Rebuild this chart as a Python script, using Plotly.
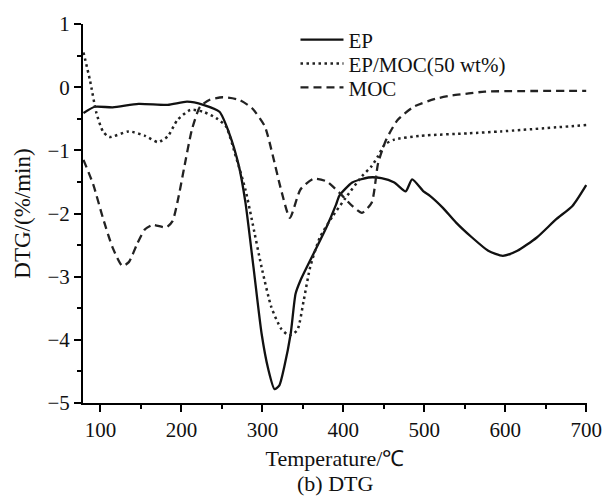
import plotly.graph_objects as go

# Temperature (°C) and DTG (%/min) values
ep_T = [79, 93, 115, 147, 183, 207, 227, 247, 259, 271, 279, 289, 299, 307, 315, 321, 327, 335, 341, 347,
        363, 379, 391, 395, 411, 431, 447, 463, 477, 485, 499, 507, 523, 539, 559, 579, 597, 615, 639, 663,
        683, 700]
ep_v = [-0.41, -0.31, -0.32, -0.265, -0.28, -0.23, -0.28, -0.39, -0.73, -1.25, -1.82, -2.85, -3.90, -4.45,
        -4.78, -4.72, -4.43, -3.90, -3.27, -3.06, -2.64, -2.22, -1.86, -1.72, -1.51, -1.43, -1.44, -1.51,
        -1.65, -1.46, -1.65, -1.72, -1.91, -2.14, -2.38, -2.59, -2.67, -2.59, -2.38, -2.09, -1.88, -1.55]

mix_T = [79, 87, 95, 103, 111, 135, 155, 171, 183, 195, 211, 227, 243, 255, 267, 279, 287, 299, 311, 323,
         333, 343, 351, 359, 371, 387, 403, 423, 435, 443, 451, 463, 495, 555, 595, 700]
mix_v = [0.55, 0.11, -0.41, -0.70, -0.79, -0.70, -0.77, -0.87, -0.78, -0.52, -0.36, -0.39, -0.49, -0.62,
         -1.09, -1.62, -2.10, -2.85, -3.48, -3.82, -3.93, -3.85, -3.38, -2.85, -2.38, -2.04, -1.75, -1.41,
         -1.25, -1.09, -0.91, -0.83, -0.77, -0.73, -0.70, -0.60]

moc_T = [79, 91, 103, 115, 127, 135, 145, 155, 165, 181, 189, 197, 203, 213, 223, 235, 251, 271, 287, 303,
         313, 323, 334, 347, 363, 379, 395, 411, 423, 435, 443, 453, 467, 487, 515, 535, 555, 575, 700]
moc_v = [-1.15, -1.54, -2.07, -2.54, -2.83, -2.77, -2.49, -2.25, -2.18, -2.22, -2.12, -1.70, -1.30, -0.67,
         -0.31, -0.20, -0.16, -0.20, -0.33, -0.62, -1.09, -1.62, -2.07, -1.62, -1.45, -1.49, -1.67, -1.88,
         -1.99, -1.83, -1.20, -0.83, -0.52, -0.31, -0.18, -0.13, -0.10, -0.07, -0.06]

series_names = ["EP", "EP/MOC(50 wt%)", "MOC"]
y_ticks = [1, 0, -1, -2, -3, -4, -5]
x_ticks = [100, 200, 300, 400, 500, 600, 700]

FONT = "Liberation Serif, Times New Roman, serif"
TXT = "#111111"

fig = go.Figure()
fig.add_trace(go.Scatter(x=ep_T, y=ep_v, name=series_names[0], mode="lines", legend="legend",
                         line=dict(color="#111111", width=2.3, shape="spline", smoothing=0.6)))
fig.add_trace(go.Scatter(x=mix_T, y=mix_v, name=series_names[1], mode="lines", legend="legend2",
                         line=dict(color="#222222", width=2.5, dash="2.5px,3.5px", shape="spline", smoothing=0.6)))
fig.add_trace(go.Scatter(x=moc_T, y=moc_v, name=series_names[2], mode="lines", legend="legend3",
                         line=dict(color="#222222", width=2.3, dash="8px,5px", shape="spline", smoothing=0.6)))

axis_common = dict(showgrid=False, zeroline=False, showline=True, linecolor="black", linewidth=2,
                   ticks="outside", ticklen=7, tickwidth=1.5, tickcolor="black",
                   ticklabeloverflow="allow",
                   tickfont=dict(family=FONT, size=21, color=TXT))

fig.update_xaxes(range=[78.4, 701], tickvals=x_ticks, ticktext=[str(t) for t in x_ticks],
                 minor=dict(dtick=50, tick0=0, ticks="outside", ticklen=4, tickwidth=1.5, tickcolor="black"),
                 title=dict(text="Temperature/℃", font=dict(family=FONT, size=22, color=TXT), standoff=9),
                 **axis_common)
fig.update_yaxes(range=[-5, 1], tickvals=y_ticks, ticktext=[str(t).replace("-", "\u2212") for t in y_ticks],
                 minor=dict(dtick=0.5, tick0=0, ticks="outside", ticklen=4, tickwidth=1.5, tickcolor="black"),
                 title=dict(text="DTG/(%/min)", font=dict(family=FONT, size=23, color=TXT), standoff=10),
                 **axis_common)

fig.add_annotation(text="(b) DTG", xref="paper", yref="paper", x=0.5, y=-0.212, showarrow=False,
                   xanchor="center", yanchor="middle", font=dict(family=FONT, size=22, color=TXT))

leg = dict(x=0.4216, xanchor="left", yanchor="middle", bgcolor="rgba(0,0,0,0)",
           font=dict(family=FONT, size=21, color=TXT), itemwidth=43)

fig.update_layout(
    width=614, height=496,
    margin=dict(l=83, r=12, t=22, b=93),
    paper_bgcolor="white", plot_bgcolor="white",
    showlegend=True,
    legend=dict(y=0.958, **leg),
    legend2=dict(y=0.895, **leg),
    legend3=dict(y=0.832, **leg),
)

fig.write_html("out.html", config={"displayModeBar": False},
               post_script="document.body.style.margin='0';document.body.style.padding='0';")
